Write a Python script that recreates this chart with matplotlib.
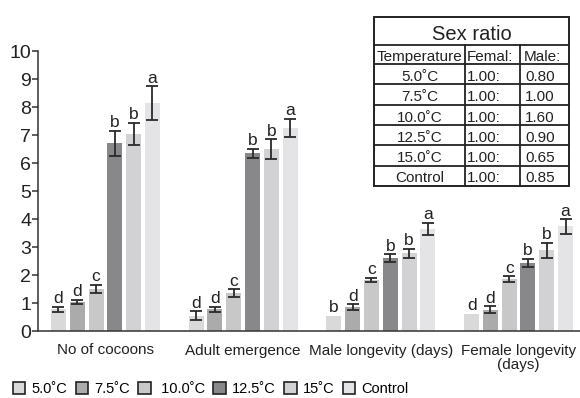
import numpy as np
import matplotlib.pyplot as plt
from matplotlib.patches import Patch, Rectangle

# ==================== fonts ====================
plt.rcParams["font.family"] = ["Liberation Sans", "DejaVu Sans"]

# ==================== data ====================
categories = ["No of cocoons", "Adult emergence", "Male longevity (days)", "Female longevity\n(days)"]
series_names = ["5.0˚C", "7.5˚C", " 10.0˚C", "12.5˚C", "15˚C", "Control"]
colors = ["#d9d9d9", "#ababab", "#c8c8c8", "#88888a", "#d2d2d4", "#e4e4e6"]

# means (one list per temperature, one value per category)
t5_0 = [0.77, 0.54, 0.54, 0.61]
t7_5 = [1.04, 0.77, 0.86, 0.76]
t10_0 = [1.51, 1.35, 1.82, 1.86]
t12_5 = [6.71, 6.35, 2.61, 2.43]
t15_0 = [7.04, 6.50, 2.77, 2.89]
ctrl = [8.15, 7.25, 3.64, 3.74]

# standard errors
e5_0 = [0.09, 0.16, 0.0, 0.0]
e7_5 = [0.08, 0.10, 0.10, 0.12]
e10_0 = [0.15, 0.14, 0.08, 0.10]
e12_5 = [0.45, 0.16, 0.14, 0.15]
e15_0 = [0.40, 0.35, 0.16, 0.27]
ectrl = [0.60, 0.33, 0.22, 0.26]

# significance letters
l5_0 = ["d", "d", "b", "d"]
l7_5 = ["d", "d", "d", "d"]
l10_0 = ["c", "c", "c", "c"]
l12_5 = ["b", "b", "b", "b"]
l15_0 = ["b", "b", "b", "b"]
lctrl = ["a", "a", "a", "a"]

# sex ratio table
ratio_temp = ["5.0˚C", "7.5˚C", "10.0˚C", "12.5˚C", "15.0˚C", "Control"]
ratio_female = ["1.00:", "1.00:", "1.00:", "1.00:", "1.00:", "1.00:"]
ratio_male = ["0.80", "1.00", "1.60", "0.90", "0.65", "0.85"]

means = [t5_0, t7_5, t10_0, t12_5, t15_0, ctrl]
errs = [e5_0, e7_5, e10_0, e12_5, e15_0, ectrl]
letters = [l5_0, l7_5, l10_0, l12_5, l15_0, lctrl]

# ==================== figure ====================
W, H = 580, 398
fig = plt.figure(figsize=(W / 100, H / 100), dpi=100)
ax = fig.add_axes([38 / W, 1 - 331 / H, 1 - 38 / W, (331 - 51) / H])

x = np.arange(len(categories))
step = 0.1365
width = 0.109
for i, (m, e, lab, c) in enumerate(zip(means, errs, letters, colors)):
    xi = x + (i - 2.5) * step
    m = np.array(m)
    e = np.array(e)
    ax.bar(xi, m, width, color=c, zorder=2)
    has = e > 0
    ax.errorbar(xi[has], m[has], yerr=e[has], fmt="none", ecolor="#2a2a2a",
                elinewidth=1.3, capsize=4, capthick=1.3, zorder=3)
    for xx, yy, ee, t in zip(xi, m, e, lab):
        ax.annotate(t, (xx, yy + ee), xytext=(0, 2.5), textcoords="offset points",
                    ha="center", va="baseline", fontsize=12.5, color="#222222")

ax.set_xlim(-0.49, 3.446)
ax.set_ylim(0, 10)
ax.set_yticks(range(0, 11))
ax.tick_params(axis="y", labelsize=14, length=4, width=1.1, color="#333333",
               labelcolor="#222222", pad=1)
ax.set_xticks(x)
ax.set_xticklabels(categories, fontsize=11, color="#222222", linespacing=1.05)
ax.tick_params(axis="x", length=0, pad=9)
for s in ["top", "right"]:
    ax.spines[s].set_visible(False)
for s in ["left", "bottom"]:
    ax.spines[s].set_color("#333333")
    ax.spines[s].set_linewidth(1.1)

# legend
handles = [Patch(facecolor=c, edgecolor="#222222", linewidth=1.2) for c in colors]
fig.legend(handles, series_names, loc="center left", bbox_to_anchor=(13 / W, 9 / H),
           ncol=6, frameon=False, fontsize=10.5, handlelength=0.85, handleheight=0.85,
           handletextpad=0.4, columnspacing=0.6, borderpad=0, borderaxespad=0)

# ==================== sex ratio table (pixel overlay) ====================
ov = fig.add_axes([0, 0, 1, 1], zorder=5)
ov.set_xlim(0, W)
ov.set_ylim(H, 0)
ov.axis("off")
ov.patch.set_alpha(0)

left, right = 374, 569
col1, col2 = 465, 520
top, title_b, head_b, bottom = 17, 45, 64, 186
row_b = np.linspace(head_b, bottom, len(ratio_temp) + 1)
lc = "#222222"
ov.add_patch(Rectangle((left, top), right - left, bottom - top, facecolor="white",
                       edgecolor=lc, lw=1.4))
for yb in [title_b, head_b] + list(row_b[1:-1]):
    ov.plot([left, right], [yb, yb], color=lc, lw=1.3)
for xc in [col1, col2]:
    ov.plot([xc, xc], [title_b, bottom], color=lc, lw=1.3)

ov.text((left + right) / 2, title_b - 5, "Sex ratio", ha="center", va="baseline",
        fontsize=14.5, color="#222222")
cell_kw = dict(va="baseline", fontsize=11, color="#222222")
ov.text((left + col1) / 2, head_b - 3, "Temperature", ha="center", **cell_kw)
ov.text(col1 + 2, head_b - 3, "Femal:", ha="left", **cell_kw)
ov.text(col2 + 4, head_b - 3, "Male:", ha="left", **cell_kw)
for k in range(len(ratio_temp)):
    yb = row_b[k + 1] - 3.5
    ov.text((left + col1) / 2, yb, ratio_temp[k], ha="center", **cell_kw)
    ov.text(col1 + 2, yb, ratio_female[k], ha="left", **cell_kw)
    ov.text(col2 + 5, yb, ratio_male[k], ha="left", **cell_kw)

fig.savefig("out.png", dpi=100)
